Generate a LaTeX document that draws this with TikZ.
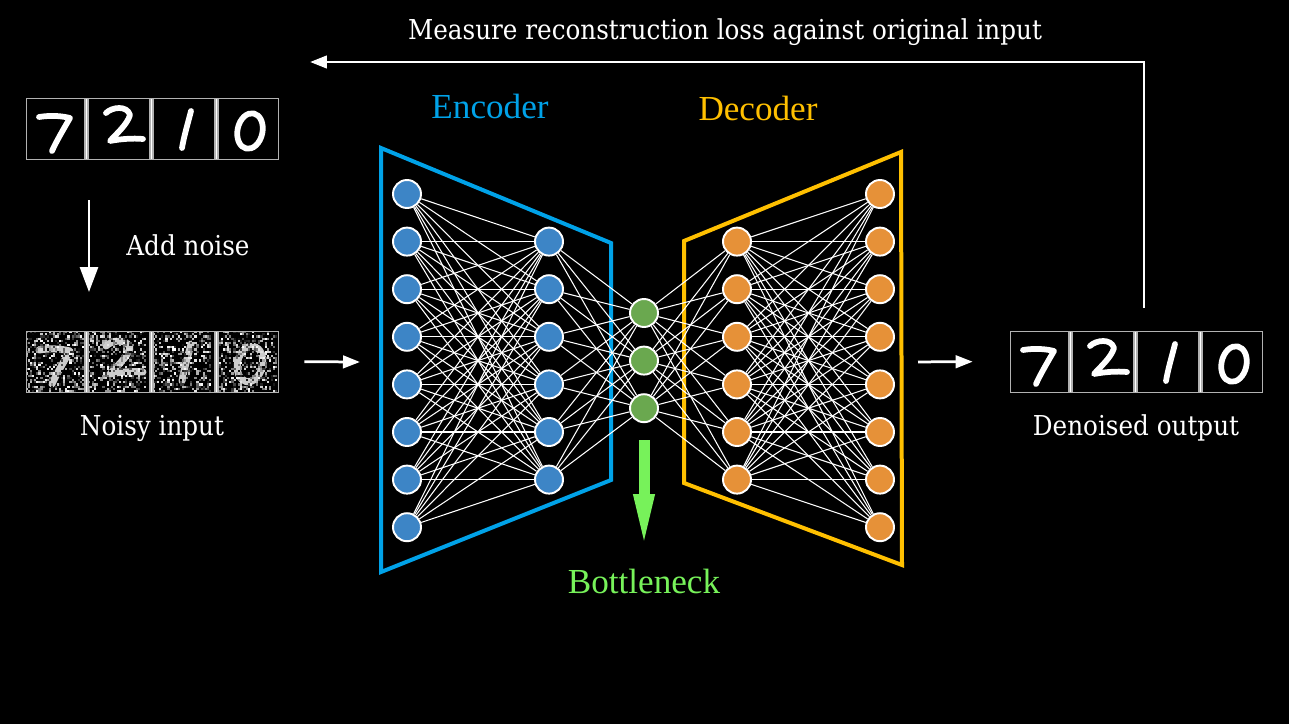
\documentclass[tikz,border=0pt]{standalone}
\usepackage{fontspec}
\setmainfont{DejaVu Serif}[FakeStretch=0.9]
\newfontfamily\partfont{Liberation Serif}
\usetikzlibrary{arrows.meta}
\definecolor{encblue}{HTML}{00A2E8}
\definecolor{decgold}{HTML}{FFC000}
\definecolor{bngreen}{HTML}{77F25A}
\definecolor{encnode}{HTML}{3D85C6}
\definecolor{decnode}{HTML}{E69138}
\definecolor{bnnode}{HTML}{6AA84F}

% four handwritten digits, drawn in a 252 x 61 box
\newcommand{\mnistdigits}[1]{%
  \begin{scope}[line width=0.115cm, line cap=round, line join=round, #1]
    \draw (13,19) .. controls (25,17) and (36,18) .. (44,20) .. controls (37,32) and (30,44) .. (26,53);
    \draw[shift={(62,0)}] (18,15) .. controls (24,9) and (39,7) .. (42,17) .. controls (39,27) and (28,36) .. (22,43) .. controls (32,41) and (45,40) .. (55,41);
    \draw[shift={(127,0)}] (38,13) .. controls (35,25) and (31,38) .. (29,50);
    \draw[shift={(193,0)}] (31,33) ellipse [x radius=12.5, y radius=18, rotate=-12];
  \end{scope}}
\newcommand{\cellbars}{%
  \foreach \d in {58,123,188} {
    \fill[gray!60] (\d,0) rectangle (\d+4.5,61);
    \fill[white] (\d+1.5,0) rectangle (\d+3,61);
  }}
\newcommand{\noisecells}{%
  \foreach \c in {0,62,127,193} {
    \foreach \k in {1,...,420} {
      \pgfmathtruncatemacro\rx{random(0,27)}
      \pgfmathtruncatemacro\ry{random(0,27)}
      \pgfmathtruncatemacro\g{random(0,100)}
      \fill[white!\g!black] (\c+\rx*2.07,\ry*2.18) rectangle ++(2.1,2.2);
    }
  }}

\begin{document}
\begin{tikzpicture}[x=0.02cm, y=-0.02cm,
    lbl/.style={text=white, inner sep=0pt, font=\fontsize{15.6}{18}\selectfont},
    partlbl/.style={inner sep=0pt, font=\partfont\fontsize{20}{24}\selectfont},
    imgbox/.style={draw=gray!60, line width=0.4pt, minimum width=5.04cm, minimum height=1.22cm, inner sep=0pt},
    neuron/.style={circle, draw=white, line width=1.1pt, minimum size=0.56cm, inner sep=0pt},
    link/.style={white, line width=0.6pt},
    flow/.style={white, line width=0.055cm, -{Triangle[length=0.34cm, width=0.25cm]}},
    bnarrow/.style={bngreen, line width=0.22cm, -{Triangle[length=1.2cm, width=0.36cm]}}]
  \fill[black] (0,0) rectangle (1289,724);
  \useasboundingbox (0,0) rectangle (1289,724);

  % clean input
  \begin{scope}[shift={(26,98)}]
    \mnistdigits{white}
    \cellbars
  \end{scope}
  \node[imgbox] (clean) at (152,128.5) {};

  % noisy input
  \pgfmathsetseed{7}
  \begin{scope}[shift={(26,331)}]
    \mnistdigits{white!80!black, line width=0.14cm}
    \noisecells
    \cellbars
  \end{scope}
  \node[imgbox] (noisy) at (152,361.5) {};

  % denoised output
  \begin{scope}[shift={(1010,331)}]
    \mnistdigits{white}
    \cellbars
  \end{scope}
  \node[imgbox] (out) at (1136,361.5) {};

  % encoder and decoder outlines
  \draw[encblue, line width=0.08cm] (381,148) -- (611,243) -- (611,480) -- (381,572) -- cycle;
  \draw[decgold, line width=0.08cm] (684,241) -- (901,152) -- (902,565) -- (684,483) -- cycle;

  % layers
  \foreach \i in {1,...,8} \node[neuron, fill=encnode] (e1-\i) at (407,146.4+47.6*\i) {};
  \foreach \i in {1,...,6} \node[neuron, fill=encnode] (e2-\i) at (549,194+47.6*\i) {};
  \foreach \i in {1,...,3} \node[neuron, fill=bnnode] (b-\i) at (644,265.4+47.6*\i) {};
  \foreach \i in {1,...,6} \node[neuron, fill=decnode] (d1-\i) at (737,194+47.6*\i) {};
  \foreach \i in {1,...,8} \node[neuron, fill=decnode] (d2-\i) at (880,146.4+47.6*\i) {};

  % weights
  \foreach \i in {1,...,8} \foreach \j in {1,...,6} \draw[link] (e1-\i) -- (e2-\j);
  \foreach \i in {1,...,6} \foreach \j in {1,...,3} \draw[link] (e2-\i) -- (b-\j);
  \foreach \i in {1,...,3} \foreach \j in {1,...,6} \draw[link] (b-\i) -- (d1-\j);
  \foreach \i in {1,...,6} \foreach \j in {1,...,8} \draw[link] (d1-\i) -- (d2-\j);

  % labels
  \node[lbl] (toplbl) at (725,32) {Measure reconstruction loss against original input};
  \node[lbl] (addlbl) at (188,245) {Add noise};
  \node[lbl] (noisylbl) at (152,428) {Noisy input};
  \node[lbl] (outlbl) at (1136,428) {Denoised output};
  \node[partlbl, text=encblue] (enclbl) at (490,106) {Encoder};
  \node[partlbl, text=decgold] (declbl) at (758,108) {Decoder};
  \node[partlbl, text=bngreen] (bnlbl) at (644,581) {Bottleneck};

  % arrows
  \coordinate (noisetop) at (89,200);
  \coordinate (noisebot) at (89,292);
  \coordinate (netin) at (360,362);
  \coordinate (netout) at (903,362);
  \coordinate (fbstart) at (1144,308);
  \coordinate (fbend) at (310,62);
  \coordinate (bnstart) at (644,440);
  \coordinate (bnend) at (644,554);
  \draw[flow, -{Triangle[length=0.5cm, width=0.36cm]}] (noisetop) -- (noisebot);
  \draw[flow, shorten <=0.52cm] (noisy.east) -- (netin);
  \draw[flow, shorten <=0.3cm, shorten >=0.74cm] (netout) -- (out.west);
  \draw[flow] (fbstart) |- (fbend);
  \draw[bnarrow] (bnstart) -- (bnend);
\end{tikzpicture}
\end{document}
